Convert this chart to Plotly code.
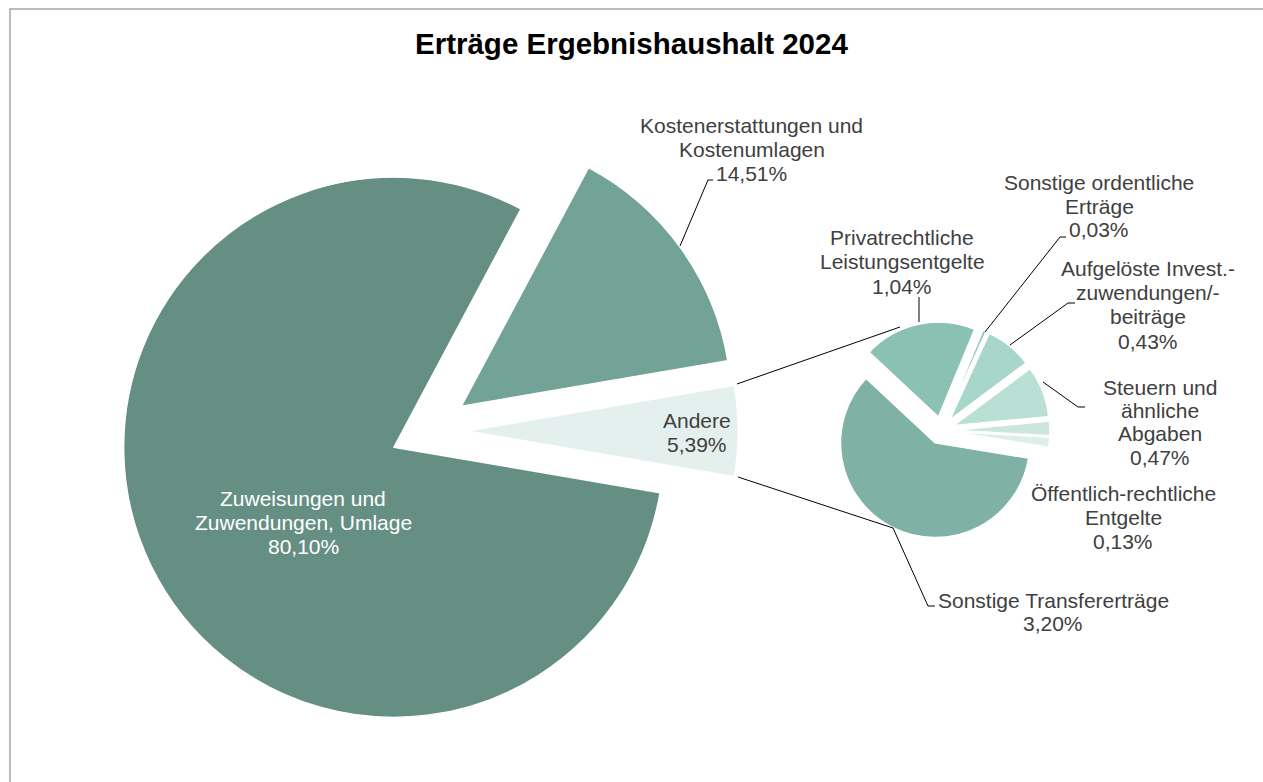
import plotly.graph_objects as go

# ---------------- data ----------------
main_labels = ["Zuweisungen und Zuwendungen, Umlage",
               "Kostenerstattungen und Kostenumlagen",
               "Andere"]
main_values = [80.10, 14.51, 5.39]

sub_labels = ["Privatrechtliche Leistungsentgelte",
              "Sonstige ordentliche Erträge",
              "Aufgelöste Invest.-zuwendungen/-beiträge",
              "Steuern und ähnliche Abgaben",
              "Öffentlich-rechtliche Entgelte",
              "Weitere (ohne Beschriftung)",
              "Sonstige Transfererträge"]
sub_values = [1.04, 0.03, 0.43, 0.47, 0.13, 0.09, 3.20]

title_text = "Erträge Ergebnishaushalt 2024"

# ---------------- style ----------------
W, H = 1263, 782
FONT = "Liberation Sans, Arial, sans-serif"
main_colors = ["#668f84", "#73a396", "#e4f0ed"]
sub_colors = ["#8bc1b3", "#96c8bb", "#a8d6ca", "#badfd5", "#cce6df", "#dcefe9", "#7fb2a5"]
main_pull = [0.137, 0.158, 0.152]
sub_pull = [0.148] * len(sub_values)


def px(x):
    return x / W


def py(y):
    return 1 - y / H


def domain(cx, cy, r, maxpull):
    half = r * (1 + maxpull)
    return dict(x=[px(cx - half), px(cx + half)], y=[py(cy + half), py(cy - half)])


def pct(v):
    return f"{v:.2f}".replace(".", ",") + "%"


# rotation: main pie -> "Andere" centred at 3 o'clock
tot1 = sum(main_values)
rot1 = 90 + 360 * main_values[-1] / tot1 / 2
# second pie: last slice (Transfer) starts at 9.3 deg below 3 o'clock
tot2 = sum(sub_values)
rot2 = 99.3 - 360 * sum(sub_values[:-1]) / tot2

fig = go.Figure()
fig.add_trace(go.Pie(
    labels=main_labels, values=main_values, sort=False, direction="clockwise",
    rotation=rot1, pull=main_pull, textinfo="none", hoverinfo="label+percent",
    marker=dict(colors=main_colors, line=dict(color="white", width=1.2)),
    domain=domain(427, 431, 270, max(main_pull)), showlegend=False))
fig.add_trace(go.Pie(
    labels=sub_labels, values=sub_values, sort=False, direction="clockwise",
    rotation=rot2, pull=sub_pull, textinfo="none", hoverinfo="label+value",
    marker=dict(colors=sub_colors, line=dict(color="white", width=1.2)),
    domain=domain(941.3, 430.4, 94.5, max(sub_pull)), showlegend=False))

# ---------------- labels ----------------
wrap = {
    main_labels[0]: ["Zuweisungen und", "Zuwendungen, Umlage"],
    main_labels[1]: ["Kostenerstattungen und", "Kostenumlagen"],
    main_labels[2]: ["Andere"],
    sub_labels[0]: ["Privatrechtliche", "Leistungsentgelte"],
    sub_labels[1]: ["Sonstige ordentliche", "Erträge"],
    sub_labels[2]: ["Aufgelöste Invest.-", "zuwendungen/-", "beiträge"],
    sub_labels[3]: ["Steuern und", "ähnliche", "Abgaben"],
    sub_labels[4]: ["Öffentlich-rechtliche", "Entgelte"],
    sub_labels[6]: ["Sonstige Transfererträge"],
}
# (centre x, first line centre y, line step, colour)
label_pos = {
    main_labels[0]: (303, 498, 24.4, "white"),
    main_labels[1]: (752, 125, 24.5, "#404040"),
    main_labels[2]: (697, 420, 24.5, "#404040"),
    sub_labels[0]: (902, 237, 24.6, "#404040"),
    sub_labels[1]: (1099, 183, 23.4, "#404040"),
    sub_labels[2]: (1148, 268, 24.4, "#404040"),
    sub_labels[3]: (1160, 387, 23.4, "#404040"),
    sub_labels[4]: (1123, 493, 24.2, "#404040"),
    sub_labels[6]: (1053, 600, 23.5, "#404040"),
}

annotations = []
for labels, values in ((main_labels, main_values), (sub_labels, sub_values)):
    for lab, val in zip(labels, values):
        if lab not in label_pos:
            continue
        cx, y0, step, col = label_pos[lab]
        lines = wrap[lab] + [pct(val)]
        for i, t in enumerate(lines):
            annotations.append(dict(
                x=px(cx), y=py(y0 + i * step), xref="paper", yref="paper",
                text=t, showarrow=False, xanchor="center", yanchor="middle",
                font=dict(family=FONT, size=21, color=col)))

annotations.append(dict(
    x=px(631.5), y=py(44), xref="paper", yref="paper", text=f"<b>{title_text}</b>",
    showarrow=False, xanchor="center", yanchor="middle",
    font=dict(family=FONT, size=29.5, color="black")))

# ---------------- leader / connector lines ----------------
def path(points):
    s = "M " + " L ".join(f"{px(x):.5f},{py(y):.5f}" for x, y in points)
    return s


line_paths = [
    [(713, 180), (708, 180), (680, 246)],          # Kosten
    [(1066, 237), (1060, 237), (985, 332)],        # Sonstige ordentliche
    [(1075, 303), (1068, 303), (1010, 345)],       # Aufgelöste
    [(1043, 382), (1078, 407), (1085, 407)],       # Steuern
    [(919, 297), (919, 322)],                      # Privat
    [(893, 528), (928, 606), (935, 606)],          # Transfer
    [(737, 384), (900, 327)],                      # connector top
    [(738, 477), (893, 528)],                      # connector bottom
]
shapes = [dict(type="path", xref="paper", yref="paper", path=path(p),
               line=dict(color="black", width=1)) for p in line_paths]
shapes.append(dict(type="rect", xref="paper", yref="paper",
                   x0=px(10), x1=px(1275), y0=py(795), y1=py(9),
                   line=dict(color="#a6a6a6", width=1.5), fillcolor="rgba(0,0,0,0)"))

fig.update_layout(
    width=W, height=H, autosize=False,
    margin=dict(l=0, r=0, t=0, b=0),
    paper_bgcolor="white", plot_bgcolor="white",
    annotations=annotations, shapes=shapes,
    font=dict(family=FONT),
)

fig.write_html("out.html",
               config={"displayModeBar": False},
               post_script="document.body.style.margin='0';"
                           "document.body.style.overflow='hidden';")
